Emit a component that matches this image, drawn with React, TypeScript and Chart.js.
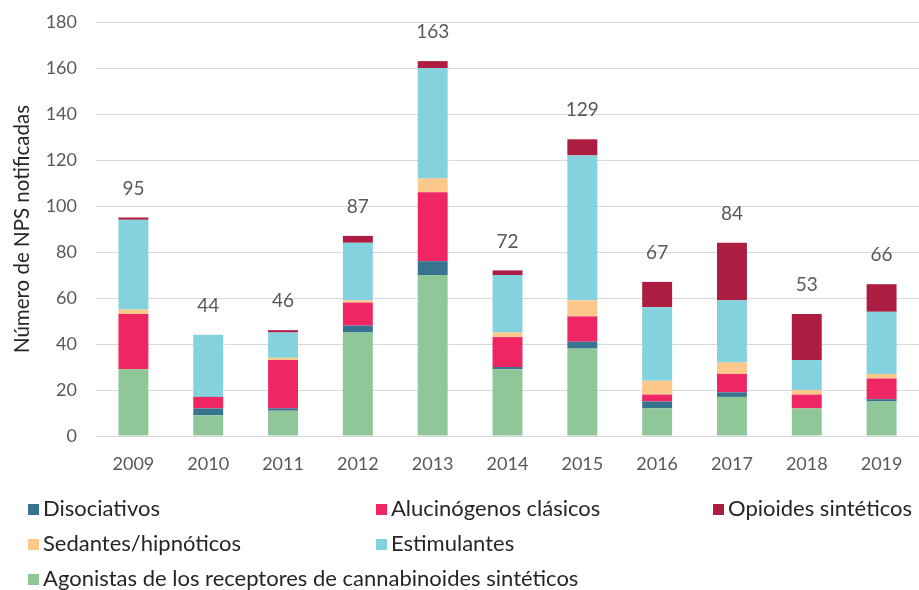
import React, { useEffect, useRef } from "react";
import { Chart, registerables } from "chart.js";

Chart.register(...registerables);

const years = ["2009", "2010", "2011", "2012", "2013", "2014", "2015", "2016", "2017", "2018", "2019"];

const agonistas = [29, 9, 11, 45, 70, 29, 38, 12, 17, 12, 15];
const disociativos = [0, 3, 1, 3, 6, 1, 3, 3, 2, 0, 1];
const alucinogenos = [24, 5, 21, 10, 30, 13, 11, 3, 8, 6, 9];
const sedantes = [2, 0, 1, 1, 6, 2, 7, 6, 5, 2, 2];
const estimulantes = [39, 27, 11, 25, 48, 25, 63, 32, 27, 13, 27];
const opioides = [1, 0, 1, 3, 3, 2, 7, 11, 25, 20, 12];

const yTicks = [0, 20, 40, 60, 80, 100, 120, 140, 160, 180];

const seriesNames = [
  "Agonistas de los receptores de cannabinoides sintéticos",
  "Disociativos",
  "Alucinógenos clásicos",
  "Sedantes/hipnóticos",
  "Estimulantes",
  "Opioides sintéticos",
];
const seriesData = [agonistas, disociativos, alucinogenos, sedantes, estimulantes, opioides];
const seriesColors = ["#8FC799", "#36738F", "#EE2664", "#FDC98A", "#84D2DE", "#AD1C41"];

// legend reading order
const legendOrder = [1, 2, 5, 3, 4, 0];
const legendCols = [1, 2, 3, 1, 2, 1];
const legendRows = [1, 1, 1, 2, 2, 3];

const FONT = "Lato, 'Open Sans', sans-serif";

const totalsPlugin = {
  id: "totals",
  afterDatasetsDraw(chart: any) {
    const { ctx } = chart;
    const yScale = chart.scales.y;
    const xScale = chart.scales.x;
    ctx.save();
    ctx.font = `19px ${FONT}`;
    ctx.fillStyle = "#595959";
    ctx.textAlign = "center";
    ctx.textBaseline = "middle";
    years.forEach((_, i) => {
      const total = seriesData.reduce((s, arr) => s + arr[i], 0);
      const x = xScale.getPixelForValue(i);
      const y = yScale.getPixelForValue(total);
      ctx.fillText(String(total), x, y - 29);
    });
    ctx.restore();
  },
};

export default function App() {
  const canvasRef = useRef<HTMLCanvasElement>(null);

  useEffect(() => {
    const chart = new Chart(canvasRef.current!, {
      type: "bar",
      data: {
        labels: years,
        datasets: seriesNames.map((name, k) => ({
          label: name,
          data: seriesData[k],
          backgroundColor: seriesColors[k],
          borderWidth: 0,
          categoryPercentage: 1,
          barPercentage: 0.4,
        })),
      },
      options: {
        animation: false,
        responsive: false,
        maintainAspectRatio: false,
        layout: { padding: { top: 22, right: 0, bottom: 114, left: 0 } },
        plugins: {
          legend: { display: false },
          tooltip: { enabled: false },
        },
        scales: {
          x: {
            stacked: true,
            grid: { display: false, drawTicks: false },
            border: { display: false },
            afterFit(scale: any) {
              scale.height = 40;
              scale.paddingLeft = 0;
              scale.paddingRight = 0;
            },
            ticks: {
              color: "#595959",
              font: { family: FONT, size: 18 },
              padding: 17,
              maxRotation: 0,
            },
          },
          y: {
            stacked: true,
            min: 0,
            max: 180,
            afterFit(scale: any) {
              scale.width = 96;
              scale.paddingTop = 0;
              scale.paddingBottom = 0;
            },
            afterBuildTicks(scale: any) {
              scale.ticks = yTicks.map((v) => ({ value: v }));
            },
            grid: { color: "#D9D9D9", lineWidth: 1, drawTicks: false },
            border: { display: false },
            ticks: {
              color: "#595959",
              font: { family: FONT, size: 18 },
              padding: 19,
            },
            title: {
              display: true,
              text: "Número de NPS notificadas",
              color: "#262626",
              font: { family: FONT, size: 20.5 },
              padding: { top: 10, bottom: 0 },
            },
          },
        },
      },
      plugins: [totalsPlugin],
    });
    return () => chart.destroy();
  }, []);

  return (
    <div style={{ position: "absolute", left: 0, top: 0, width: 919, height: 590, background: "#fff" }}>
      <canvas ref={canvasRef} width={919} height={590} style={{ display: "block" }} />
      <div
        style={{
          position: "absolute",
          left: 28,
          top: 490,
          display: "grid",
          gridTemplateColumns: "348px 337px auto",
          gridTemplateRows: "35px 35px 35px",
          fontFamily: FONT,
          fontSize: 22,
          color: "#262626",
          whiteSpace: "nowrap",
        }}
      >
        {legendOrder.map((k, j) => (
          <div
            key={k}
            style={{
              display: "flex",
              alignItems: "center",
              gridColumn: legendCols[j],
              gridRow: legendRows[j],
            }}
          >
            <span
              style={{
                display: "inline-block",
                flexShrink: 0,
                width: 11,
                height: 11,
                background: seriesColors[k],
                marginRight: 4,
                position: "relative",
                top: 2,
              }}
            />
            <span>{seriesNames[k]}</span>
          </div>
        ))}
      </div>
    </div>
  );
}
